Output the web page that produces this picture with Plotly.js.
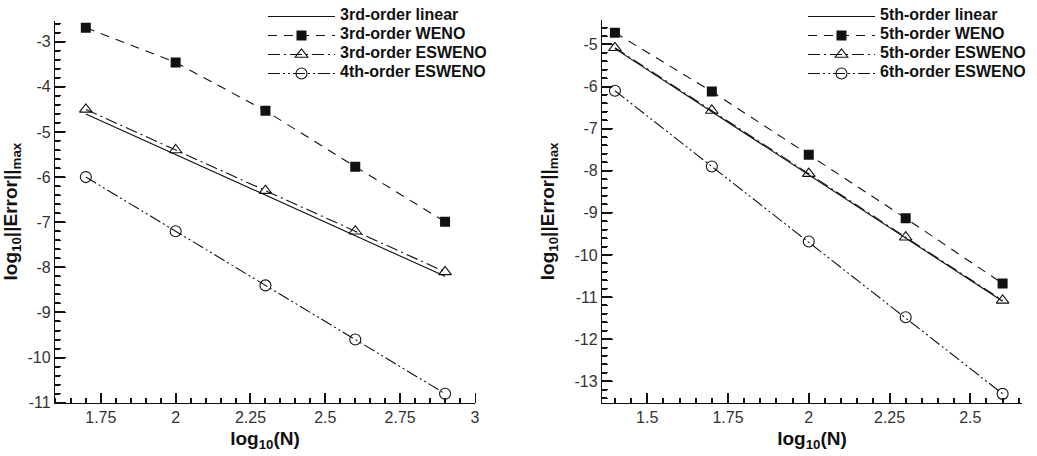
<!DOCTYPE html>
<html>
<head>
<meta charset="utf-8">
<script src="https://cdn.plot.ly/plotly-3.0.1.min.js"></script>
<style>html,body{margin:0;padding:0;background:#fff;}#chart{width:1037px;height:456px;}</style>
</head>
<body>
<div id="chart"></div>
<script>
const xLeft = [1.7, 2.0, 2.3, 2.6, 2.9];
const linear3 = [-4.6, -5.5, -6.4, -7.3, -8.2];
const weno3 = [-2.69, -3.46, -4.53, -5.77, -6.99];
const esweno3 = [-4.5, -5.4, -6.3, -7.2, -8.1];
const esweno4 = [-6.0, -7.2, -8.4, -9.6, -10.8];
const xRight = [1.4, 1.7, 2.0, 2.3, 2.6];
const linear5 = [-5.1, -6.6, -8.1, -9.6, -11.1];
const weno5 = [-4.72, -6.12, -7.62, -9.13, -10.68];
const esweno5 = [-5.08, -6.57, -8.07, -9.58, -11.08];
const esweno6 = [-6.1, -7.9, -9.68, -11.48, -13.3];
const namesLeft = ['3rd-order linear', '3rd-order WENO', '3rd-order ESWENO', '4th-order ESWENO'];
const namesRight = ['5th-order linear', '5th-order WENO', '5th-order ESWENO', '6th-order ESWENO'];
const xTickValsLeft = [1.75, 2, 2.25, 2.5, 2.75, 3];
const xTickTextLeft = ['1.75', '2', '2.25', '2.5', '2.75', '3'];
const yTickValsLeft = [-3, -4, -5, -6, -7, -8, -9, -10, -11];
const yTickTextLeft = ['-3', '-4', '-5', '-6', '-7', '-8', '-9', '-10', '-11'];
const xTickValsRight = [1.5, 1.75, 2, 2.25, 2.5];
const xTickTextRight = ['1.5', '1.75', '2', '2.25', '2.5'];
const yTickValsRight = [-5, -6, -7, -8, -9, -10, -11, -12, -13];
const yTickTextRight = ['-5', '-6', '-7', '-8', '-9', '-10', '-11', '-12', '-13'];

const FONT = '"Liberation Sans", Arial, Helvetica, sans-serif';
const DASH = '9px,7px';
const DASHDOT = '12px,4px,2px,4px';
const DASHDOTDOT = '12px,3px,2px,3px,2px,3px';
const INK = '#111';

function lbl(t) { return '<span style="font-size:16px">' + t + '</span>'; }

function traces(x, ys, names, xa, ya, leg) {
  return [
    {x: x, y: ys[0], name: lbl(names[0]), xaxis: xa, yaxis: ya, legend: leg, mode: 'lines',
     line: {color: INK, width: 1.1}},
    {x: x, y: ys[1], name: lbl(names[1]), xaxis: xa, yaxis: ya, legend: leg, mode: 'lines+markers',
     line: {color: INK, width: 1.1, dash: DASH},
     marker: {symbol: 'square', size: 10, color: INK, line: {width: 0}}},
    {x: x, y: ys[2], name: lbl(names[2]), xaxis: xa, yaxis: ya, legend: leg, mode: 'lines+markers',
     line: {color: INK, width: 1.1, dash: DASHDOT},
     marker: {symbol: 'triangle-up-open', size: 11, color: INK, line: {width: 1.1}}},
    {x: x, y: ys[3], name: lbl(names[3]), xaxis: xa, yaxis: ya, legend: leg, mode: 'lines+markers',
     line: {color: INK, width: 1.1, dash: DASHDOTDOT},
     marker: {symbol: 'circle-open', size: 11, color: INK, line: {width: 1.1}}}
  ];
}
// invisible carrier traces so that the tick-only overlay axes are drawn
function carrier(x, y, xa, ya) {
  return {x: x, y: y, xaxis: xa, yaxis: ya, mode: 'lines', opacity: 0,
          line: {width: 0}, showlegend: false, hoverinfo: 'skip'};
}

const data = [].concat(
  traces(xLeft, [linear3, weno3, esweno3, esweno4], namesLeft, 'x', 'y', 'legend'),
  traces(xRight, [linear5, weno5, esweno5, esweno6], namesRight, 'x2', 'y2', 'legend2'),
  [carrier(xLeft, linear3, 'x3', 'y'), carrier(xLeft, linear3, 'x', 'y3'),
   carrier(xRight, linear5, 'x4', 'y2'), carrier(xRight, linear5, 'x2', 'y4')]
);

function xax(domain, range, vals, text, anchor, dminor) {
  return {
    domain: domain, range: range, anchor: anchor,
    tickmode: 'array', tickvals: vals, ticktext: text,
    ticks: 'inside', ticklen: 10, tickwidth: 1.5, tickcolor: INK,
    minor: {dtick: dminor, tick0: 0, ticks: 'inside', ticklen: 5, tickwidth: 1.5, tickcolor: INK, showgrid: false},
    showline: true, linecolor: INK, linewidth: 1.3,
    showgrid: false, zeroline: false,
    tickfont: {family: FONT, size: 16, color: '#333'},
    title: {text: 'log<sub>10</sub>(N)', font: {family: FONT, size: 19, color: INK, weight: 'bold'}, standoff: 6}
  };
}
function yax(domain, range, vals, text, anchor, dminor) {
  return {
    domain: domain, range: range, anchor: anchor,
    tickmode: 'array', tickvals: vals, ticktext: text,
    ticks: 'inside', ticklen: 10, tickwidth: 1.5, tickcolor: INK,
    minor: {dtick: dminor, tick0: 0, ticks: 'inside', ticklen: 5, tickwidth: 1.5, tickcolor: INK, showgrid: false},
    showline: true, linecolor: INK, linewidth: 1.3,
    showgrid: false, zeroline: false,
    tickfont: {family: FONT, size: 16, color: '#333'},
    title: {text: 'log<sub>10</sub>||Error||<sub>max</sub>', font: {family: FONT, size: 19, color: INK, weight: 'bold'}}
  };
}
function xTickAx(over, domain, range, vals, pos, dminor) {
  return {
    overlaying: over, side: 'top', anchor: 'free', position: pos,
    domain: domain, range: range,
    tickmode: 'array', tickvals: vals, showticklabels: false,
    ticks: 'outside', ticklen: 10, tickwidth: 1, tickcolor: INK,
    minor: {dtick: dminor, tick0: 0, ticks: 'outside', ticklen: 5, tickwidth: 1, tickcolor: INK, showgrid: false},
    showline: false, showgrid: false, zeroline: false
  };
}
function yTickAx(over, domain, range, vals, pos, dminor) {
  return {
    overlaying: over, side: 'right', anchor: 'free', position: pos,
    domain: domain, range: range,
    tickmode: 'array', tickvals: vals, showticklabels: false,
    ticks: 'outside', ticklen: 10, tickwidth: 1, tickcolor: INK,
    minor: {dtick: dminor, tick0: 0, ticks: 'outside', ticklen: 5, tickwidth: 1, tickcolor: INK, showgrid: false},
    showline: false, showgrid: false, zeroline: false
  };
}

const legendBase = {
  xanchor: 'left', yanchor: 'top', bgcolor: 'rgba(0,0,0,0)', borderwidth: 0,
  font: {family: FONT, size: 10, color: INK, weight: 'bold'},
  itemwidth: 67, tracegroupgap: 0
};

const XD1 = [55/1037, 475/1037], XD2 = [602/1037, 1022/1037];
const YD1 = [53.3/456, 435.5/456], YD2 = [53.3/456, 436/456];
const XR1 = [1.597, 3.0], XR2 = [1.36, 2.66];
const YR1 = [-11, -2.53], YR2 = [-13.51, -4.42];

const layout = {
  width: 1037, height: 456,
  margin: {l: 0, r: 0, t: 0, b: 0},
  paper_bgcolor: '#fff', plot_bgcolor: '#fff',
  font: {family: FONT, color: INK},
  showlegend: true,
  xaxis: xax(XD1, XR1, xTickValsLeft, xTickTextLeft, 'y', 0.05),
  yaxis: yax(YD1, YR1, yTickValsLeft, yTickTextLeft, 'x', 0.2),
  xaxis2: xax(XD2, XR2, xTickValsRight, xTickTextRight, 'y2', 0.05),
  yaxis2: yax(YD2, YR2, yTickValsRight, yTickTextRight, 'x2', 0.2),
  xaxis3: xTickAx('x', XD1, XR1, xTickValsLeft, YD1[0], 0.05),
  yaxis3: yTickAx('y', YD1, YR1, yTickValsLeft, XD1[0], 0.2),
  xaxis4: xTickAx('x2', XD2, XR2, xTickValsRight, YD2[0], 0.05),
  yaxis4: yTickAx('y2', YD2, YR2, yTickValsRight, XD2[0], 0.2),
  legend: Object.assign({x: 263/1037, y: 1 - 2/456}, legendBase),
  legend2: Object.assign({x: 803/1037, y: 1 - 2/456}, legendBase)
};

Plotly.newPlot('chart', data, layout, {displayModeBar: false});
</script>
</body>
</html>
